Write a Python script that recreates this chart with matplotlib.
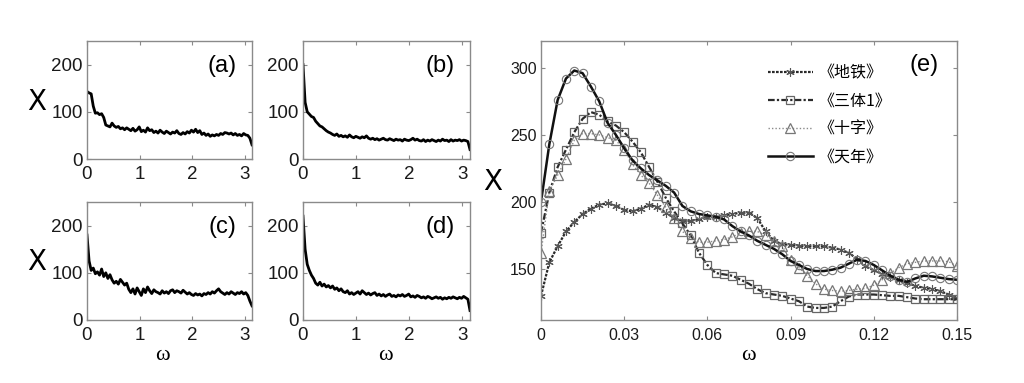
import numpy as np
import matplotlib
matplotlib.use("Agg")
import matplotlib.pyplot as plt

# ---------------- data ----------------
panel_labels = ["(a)", "(b)", "(c)", "(d)"]
small_xticks = [0, 1, 2, 3]
small_yticks = [0, 100, 200]

chi_a = [143, 140, 138, 112, 97, 98, 94, 96, 88, 72, 70, 68, 76, 70, 67, 69, 64, 66, 62, 66,
         63, 60, 65, 59, 62, 68, 58, 61, 57, 66, 60, 62, 56, 59, 55, 61, 57, 54, 59, 56,
         53, 57, 55, 60, 54, 52, 56, 53, 58, 55, 61, 57, 63, 56, 60, 52, 55, 50, 53, 48,
         51, 49, 52, 50, 54, 52, 56, 55, 53, 55, 51, 54, 50, 52, 49, 54, 51, 50, 44, 30]
chi_b = [200, 120, 100, 95, 90, 88, 80, 75, 70, 68, 64, 60, 57, 55, 52, 50, 53, 48, 50, 47,
         49, 46, 51, 47, 45, 48, 46, 44, 47, 45, 49, 44, 42, 44, 41, 43, 40, 42, 44, 41,
         40, 43, 41, 39, 42, 40, 41, 38, 42, 40, 39, 41, 44, 40, 42, 39, 38, 41, 37, 40,
         38, 41, 39, 37, 40, 38, 42, 39, 40, 37, 41, 38, 40, 39, 41, 38, 40, 39, 37, 20]
chi_c = [180, 125, 105, 110, 98, 102, 95, 108, 92, 100, 88, 96, 85, 78, 82, 76, 86, 80, 74, 78,
         65, 58, 66, 55, 68, 60, 52, 66, 58, 70, 62, 56, 64, 60, 58, 55, 62, 57, 60, 56,
         62, 64, 58, 62, 60, 57, 63, 59, 55, 58, 54, 52, 56, 53, 55, 51, 56, 54, 58, 55,
         60, 57, 62, 66, 60, 57, 54, 58, 55, 60, 57, 54, 58, 56, 60, 55, 58, 52, 40, 30]
chi_d = [220, 150, 118, 105, 95, 88, 78, 74, 80, 72, 76, 70, 73, 68, 72, 65, 68, 62, 66, 60,
         58, 62, 55, 58, 54, 57, 60, 55, 62, 58, 54, 57, 53, 56, 58, 52, 55, 51, 54, 50,
         53, 55, 50, 52, 49, 53, 51, 54, 50, 52, 55, 49, 51, 48, 52, 50, 47, 49, 46, 50,
         48, 45, 47, 49, 46, 48, 44, 47, 45, 48, 46, 49, 47, 45, 48, 46, 50, 47, 44, 20]
small_series = [chi_a, chi_b, chi_c, chi_d]

omega_e = [0.000, 0.003, 0.006, 0.009, 0.012, 0.015, 0.018, 0.021, 0.024, 0.027,
           0.030, 0.033, 0.036, 0.039, 0.042, 0.045, 0.048, 0.051, 0.054, 0.057,
           0.060, 0.063, 0.066, 0.069, 0.072, 0.075, 0.078, 0.081, 0.084, 0.087,
           0.090, 0.093, 0.096, 0.099, 0.102, 0.105, 0.108, 0.111, 0.114, 0.117,
           0.120, 0.123, 0.126, 0.129, 0.132, 0.135, 0.138, 0.141, 0.144, 0.147, 0.150]
ditie = [130, 155, 167, 178, 185, 191, 195, 198, 199, 197,
         194, 193, 195, 198, 196, 192, 188, 186, 186, 187,
         188.5, 189, 190, 191, 192, 192, 188, 178, 171, 168.5,
         168, 167.5, 167, 167, 167, 166, 164.5, 162, 157.5, 152,
         149, 146.5, 144, 141.5, 139.5, 137.5, 136, 135, 133.5, 131, 128.5]
santi = [177, 207, 226, 239, 252, 262, 267, 265, 260, 257,
         252, 245, 237, 226, 215, 203, 193, 184, 175, 162,
         153, 147, 146, 145, 142, 139, 135, 132, 131, 130,
         128, 126, 122, 121, 121, 122, 126, 129.5, 131, 131,
         131, 130.5, 130, 130, 129, 128, 127.5, 127.5, 127.5, 127.5, 127.5]
shizi = [162, 208, 220, 232, 246, 251, 251, 250, 248, 246,
         239, 228, 220, 214, 205, 196, 188, 178, 173, 170,
         170, 171, 172, 174, 177, 178.5, 178, 175, 171, 167,
         157, 151, 145, 139, 135, 134, 133.5, 134, 135, 135.5,
         138, 142, 147, 151, 154, 155, 156, 156, 156, 155.5, 152]
tiannian = [200, 243, 276, 292, 298, 296, 286, 275, 259, 250,
            240, 231, 225, 220, 216, 212, 207, 197, 193, 191,
            190, 189, 187, 182, 178, 175, 171, 168, 165, 161,
            156, 153, 150, 148.5, 148.5, 149.5, 151, 154, 157, 156,
            153, 149, 145, 142, 140.5, 143, 145, 144.5, 143.5, 142.5, 142]
e_names = ["《地铁》", "《三体1》", "《十字》", "《天年》"]
e_xticks = [0, 0.03, 0.06, 0.09, 0.12, 0.15]
e_xticklabels = ["0", "0.03", "0.06", "0.09", "0.12", "0.15"]
e_yticks = [150, 200, 250, 300]

# ---------------- figure ----------------
plt.rcParams['font.family'] = ['Liberation Sans', 'DejaVu Sans']
W, H = 1024, 383
fig = plt.figure(figsize=(W / 100, H / 100), dpi=100)

def rect(l, t, r, b):
    return [l / W, 1 - b / H, (r - l) / W, (b - t) / H]

spine_col = '#8a8a8a'

def style(ax, size, xpad):
    for s in ax.spines.values():
        s.set_color(spine_col)
        s.set_linewidth(1.0)
    ax.tick_params(direction='in', top=True, right=True, length=3,
                   color=spine_col, labelsize=size, labelcolor='#1a1a1a')
    ax.tick_params(axis='x', pad=xpad)
    ax.tick_params(axis='y', pad=3)

small_rects = [rect(87, 41, 252, 159), rect(303, 41, 470, 159),
               rect(87, 202, 252, 320), rect(303, 202, 470, 320)]
for i, (r, vals) in enumerate(zip(small_rects, small_series)):
    ax = fig.add_axes(r)
    x = np.linspace(0, np.pi, len(vals))
    ax.plot(x, vals, color='black', lw=2.0)
    ax.set_xlim(0, np.pi)
    ax.set_ylim(0, 250)
    ax.set_xticks(small_xticks)
    ax.set_yticks(small_yticks)
    style(ax, 13.5, 5)
    ax.text(0.82, 0.79, panel_labels[i], transform=ax.transAxes, fontsize=17,
            ha='center', va='center')
    if i in (0, 2):
        fig.text(37 / W, 1 - (102 if i == 0 else 262) / H, "X", fontsize=20,
                 ha='center', va='center', family='DejaVu Sans')
    if i in (2, 3):
        fig.text((162 if i == 2 else 385) / W, 1 - 355 / H, "ω", fontsize=16,
                 ha='center', va='center', family='Liberation Serif')

# ---------------- panel (e) ----------------
ax = fig.add_axes(rect(541, 41, 957, 320))
ax.plot(omega_e, ditie, color='#2a2a2a', lw=1.6, ls=(0, (1.2, 0.6)),
        marker=(6, 2, 0), ms=6, mec='#555555', mew=0.8, label=e_names[0])
ax.plot(omega_e, santi, color='#2a2a2a', lw=1.6, ls=(0, (3, 1, 1, 1)),
        marker='s', ms=5.5, mfc='none', mec='#666666', mew=0.9, label=e_names[1])
ax.plot(omega_e, shizi, color='#8a8a8a', lw=1.0, ls=(0, (1, 1.5)),
        marker='^', ms=7, mfc='none', mec='#777777', mew=0.9, label=e_names[2])
ax.plot(omega_e, tiannian, color='#111111', lw=1.8, ls='-',
        marker='o', ms=6, mfc='none', mec='#777777', mew=0.8, label=e_names[3])
ax.set_xlim(0, 0.15)
ax.set_ylim(112, 320)
ax.set_xticks(e_xticks)
ax.set_xticklabels(e_xticklabels)
ax.set_yticks(e_yticks)
style(ax, 11.5, 6)
ax.text(0.922, 0.915, "(e)", transform=ax.transAxes, fontsize=17,
        ha='center', va='center')
fig.text(493 / W, 1 - 182 / H, "X", fontsize=20, ha='center', va='center',
         family='DejaVu Sans')
fig.text(748 / W, 1 - 356 / H, "ω", fontsize=16, ha='center', va='center',
         family='Liberation Serif')
leg = ax.legend(loc='upper left', bbox_to_anchor=(0.53, 0.94), frameon=False,
                prop={'family': ['Noto Sans CJK SC', 'DejaVu Sans'], 'size': 11.5},
                handlelength=2.8, labelspacing=0.7, handletextpad=0.4,
                borderaxespad=0.0)

fig.savefig("out.png", dpi=100, facecolor='white')
